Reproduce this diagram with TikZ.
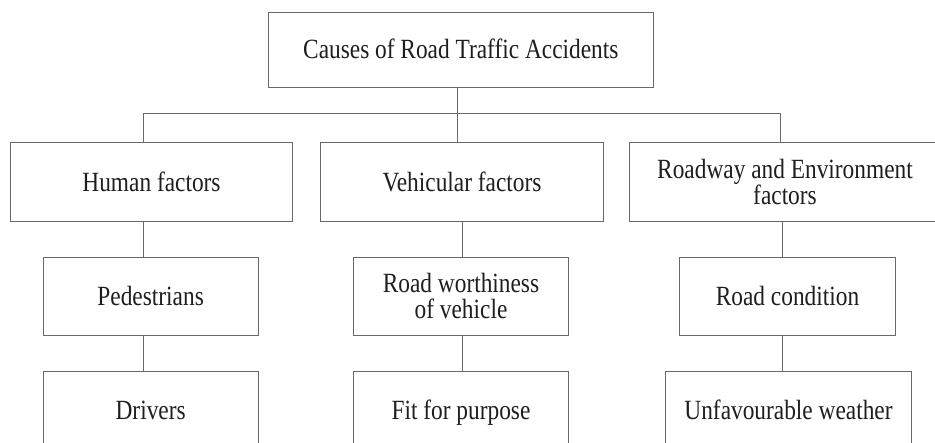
\documentclass[tikz,border=0pt]{standalone}
\usepackage{fontspec}
\setmainfont{Liberation Serif}[FakeStretch=0.84]
\definecolor{linegray}{RGB}{105,105,105}
\definecolor{txt}{RGB}{30,30,30}
\begin{document}
\begin{tikzpicture}[x=1pt,y=-1pt,
  box/.style={draw=linegray, line width=1pt, rectangle, inner sep=0pt, align=center,
    text=txt, font=\fontsize{27.8}{26.3}\selectfont, text height=18.4pt, text depth=0pt},
  twoline/.style={text height=44.7pt, text depth=0pt},
  conn/.style={draw=linegray, line width=1pt}]
\clip (0,0) rectangle (935,443);
\fill[white] (0,0) rectangle (935,443);
% boxes
\node[box, minimum width=385pt, minimum height=75pt] (top) at (460.8,49.8) {Causes of Road Traffic Accidents};
\node[box, minimum width=282.4pt, minimum height=78.8pt] (human) at (151.5,182.3) {Human factors};
\node[box, minimum width=282.6pt, minimum height=78.8pt] (vehic) at (462,182.3) {Vehicular factors};
\node[box, twoline, minimum width=311.4pt, minimum height=78.8pt] (road) at (785,182.3) {Roadway and Environment\\factors};
\node[box, minimum width=215.3pt, minimum height=78pt] (ped) at (150.65,296.3) {Pedestrians};
\node[box, twoline, minimum width=215.4pt, minimum height=78pt] (worth) at (461,296.3) {Road worthiness\\of vehicle};
\node[box, minimum width=215.6pt, minimum height=78pt] (cond) at (787.5,296.3) {Road condition};
\node[box, minimum width=215.3pt, minimum height=78pt] (drivers) at (150.65,410.7) {Drivers};
\node[box, minimum width=215.4pt, minimum height=78pt] (fit) at (461,410.7) {Fit for purpose};
\node[box, minimum width=246.4pt, minimum height=78pt] (unfav) at (788.5,410.7) {Unfavourable weather};
% connector guide coordinates
\coordinate (bus) at (457.7,113.3);
\coordinate (busL) at (143.3,113.3);
\coordinate (busR) at (780.3,113.3);
\coordinate (colA) at (143.3,0);
\coordinate (colB) at (462.3,0);
\coordinate (colC) at (782.3,0);
% connectors
\draw[conn] (top.south -| bus) -- (vehic.north -| bus);
\draw[conn] (busL) -- (busR);
\draw[conn] (busL) -- (human.north -| busL);
\draw[conn] (busR) -- (road.north -| busR);
\draw[conn] (human.south -| colA) -- (ped.north -| colA);
\draw[conn] (ped.south -| colA) -- (drivers.north -| colA);
\draw[conn] (vehic.south -| colB) -- (worth.north -| colB);
\draw[conn] (worth.south -| colB) -- (fit.north -| colB);
\draw[conn] (road.south -| colC) -- (cond.north -| colC);
\draw[conn] (cond.south -| colC) -- (unfav.north -| colC);
\end{tikzpicture}
\end{document}
